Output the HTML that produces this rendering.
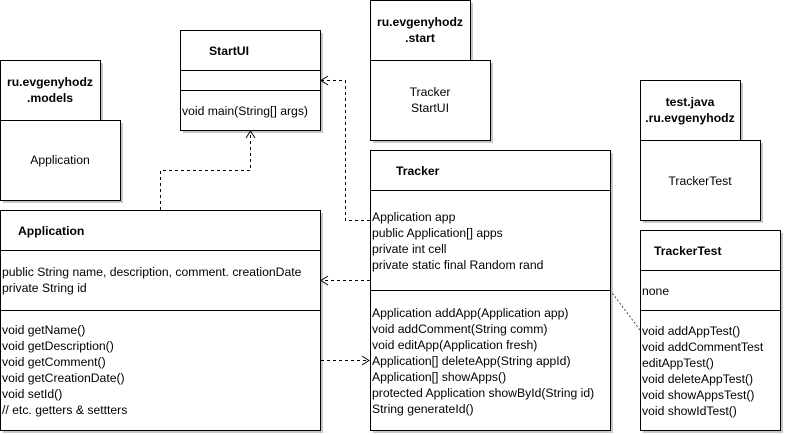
<!DOCTYPE html>
<html><head><meta charset="utf-8"><style>
html,body{margin:0;padding:0;background:#fff;}
svg{display:block;font-family:"Liberation Sans",Arial,sans-serif;font-size:12.2px;}
.b{font-weight:bold;}
</style></head><body>
<svg width="785" height="435" viewBox="0 0 785 435" xmlns="http://www.w3.org/2000/svg">
<g fill="#c8c8c8">
<rect x="183" y="33" width="140" height="100"/>
<rect x="3" y="63" width="100" height="60"/><rect x="3" y="123" width="120" height="80"/>
<rect x="373" y="3" width="100" height="60"/><rect x="373" y="63" width="120" height="80"/>
<rect x="643" y="83" width="100" height="60"/><rect x="643" y="143" width="120" height="80"/>
<rect x="373" y="153" width="240" height="280"/>
<rect x="643" y="233" width="140" height="200"/>
<rect x="3" y="213" width="320" height="220"/>
</g>
<g fill="#fff" stroke="#000" stroke-width="1">
<rect x="180.5" y="30.5" width="140" height="100"/>
<line x1="180" y1="70.5" x2="320" y2="70.5"/><line x1="180" y1="90.5" x2="320" y2="90.5"/>
<rect x="0.5" y="60.5" width="100" height="60"/><rect x="0.5" y="120.5" width="120" height="80"/>
<rect x="370.5" y="0.5" width="100" height="60"/><rect x="370.5" y="60.5" width="120" height="80"/>
<rect x="640.5" y="80.5" width="100" height="60"/><rect x="640.5" y="140.5" width="120" height="80"/>
<rect x="370.5" y="150.5" width="240" height="280"/>
<line x1="370" y1="190.5" x2="610" y2="190.5"/><line x1="370" y1="290.5" x2="610" y2="290.5"/>
<rect x="640.5" y="230.5" width="140" height="200"/>
<line x1="640" y1="270.5" x2="780" y2="270.5"/><line x1="640" y1="310.5" x2="780" y2="310.5"/>
<rect x="0.5" y="210.5" width="320" height="220"/>
<line x1="0" y1="250.5" x2="320" y2="250.5"/><line x1="0" y1="310.5" x2="320" y2="310.5"/>
</g>
<g fill="none" stroke="#000" stroke-dasharray="3,3">
<polyline points="160.5,210 160.5,170.5 250.5,170.5 250.5,132"/>
<polyline points="370,220.5 345.5,220.5 345.5,80.5 322,80.5"/>
<line x1="370" y1="280.5" x2="322" y2="280.5"/>
<line x1="321" y1="360.5" x2="368" y2="360.5"/>
<line x1="610" y1="290" x2="640" y2="330" stroke-dasharray="2,2" stroke-width="0.7"/>
</g>
<g fill="none" stroke="#000">
<polyline points="246,138 250.5,131 255,138"/>
<polyline points="328,76 321,80.5 328,85"/>
<polyline points="328,276 321,280.5 328,285"/>
<polyline points="362,356 369,360.5 362,365"/>
</g>
<g>
<text class="b" x="209" y="55">StartUI</text>
<text x="182" y="115">void main(String[] args)</text>
<text class="b" x="50" y="86" text-anchor="middle">ru.evgenyhodz</text>
<text class="b" x="50" y="102" text-anchor="middle">.models</text>
<text x="60" y="164" text-anchor="middle">Application</text>
<text class="b" x="420" y="26" text-anchor="middle">ru.evgenyhodz</text>
<text class="b" x="420" y="42" text-anchor="middle">.start</text>
<text x="430" y="96" text-anchor="middle">Tracker</text>
<text x="430" y="112" text-anchor="middle">StartUI</text>
<text class="b" x="690" y="106" text-anchor="middle">test.java</text>
<text class="b" x="690" y="122" text-anchor="middle">.ru.evgenyhodz</text>
<text x="700" y="185" text-anchor="middle">TrackerTest</text>
<text class="b" x="396" y="175">Tracker</text>
<text x="372" y="221">Application app</text>
<text x="372" y="237">public Application[] apps</text>
<text x="372" y="253">private int cell</text>
<text x="372" y="269">private static final Random rand</text>
<text x="372" y="317">Application addApp(Application app)</text>
<text x="372" y="333">void addComment(String comm)</text>
<text x="372" y="349">void editApp(Application fresh)</text>
<text x="372" y="365">Application[] deleteApp(String appId)</text>
<text x="372" y="381">Application[] showApps()</text>
<text x="372" y="397">protected Application showById(String id)</text>
<text x="372" y="413">String generateId()</text>
<text class="b" x="654" y="255">TrackerTest</text>
<text x="642" y="295">none</text>
<text x="642" y="335">void addAppTest()</text>
<text x="642" y="351">void addCommentTest</text>
<text x="642" y="367">editAppTest()</text>
<text x="642" y="383">void deleteAppTest()</text>
<text x="642" y="399">void showAppsTest()</text>
<text x="642" y="415">void showIdTest()</text>
<text class="b" x="18" y="235">Application</text>
<text x="2" y="276">public String name, description, comment. creationDate</text>
<text x="2" y="292">private String id</text>
<text x="2" y="334">void getName()</text>
<text x="2" y="350">void getDescription()</text>
<text x="2" y="366">void getComment()</text>
<text x="2" y="382">void getCreationDate()</text>
<text x="2" y="398">void setId()</text>
<text x="2" y="414">// etc. getters &amp; settters</text>
</g>
</svg>
</body></html>
